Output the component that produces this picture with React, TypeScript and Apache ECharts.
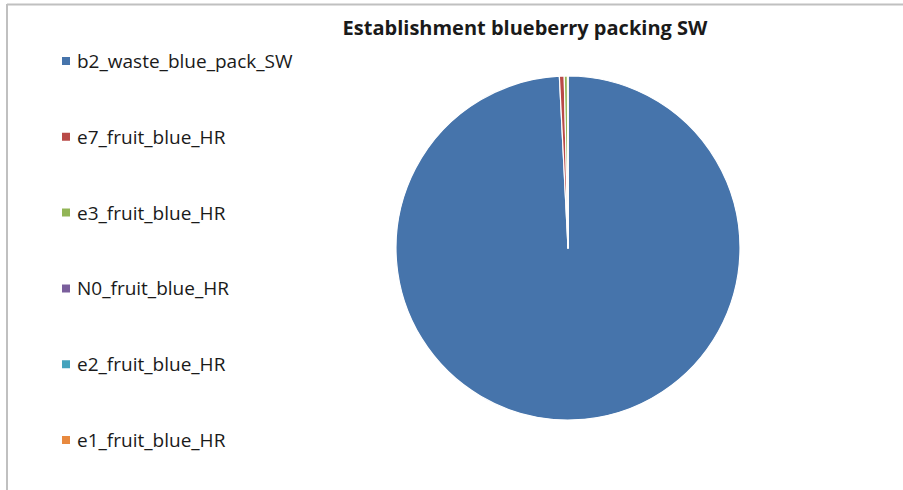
import React, { useEffect, useRef } from "react";
import * as echarts from "echarts";

const categories = [
  "b2_waste_blue_pack_SW",
  "e7_fruit_blue_HR",
  "e3_fruit_blue_HR",
  "N0_fruit_blue_HR",
  "e2_fruit_blue_HR",
  "e1_fruit_blue_HR",
];
const values = [99.2, 0.45, 0.3, 0.02, 0.02, 0.01];
const colors = ["#4674ab", "#b94a47", "#92b556", "#7a5e9c", "#44a3bd", "#e8893f"];
const title = "Establishment blueberry packing SW";

export default function App() {
  const ref = useRef<HTMLDivElement>(null);
  useEffect(() => {
    const chart = echarts.init(ref.current!, null, { renderer: "svg" });
    chart.setOption({
      animation: false,
      backgroundColor: "#ffffff",
      title: {
        text: title,
        left: 520,
        textAlign: "center",
        top: 12,
        textStyle: { fontFamily: "Open Sans", fontWeight: "bold", fontSize: 20, color: "#1a1a1a" },
      },
      legend: {
        orient: "vertical",
        left: 55,
        top: 46,
        itemWidth: 10,
        itemHeight: 10,
        itemGap: 55.8,
        icon: "rect",
        data: categories,
        textStyle: {
          fontFamily: "Open Sans",
          fontSize: 19,
          lineHeight: 20,
          color: "#1a1a1a",
          padding: [0, 0, 0, 1],
        },
      },
      graphic: [
        { type: "line", shape: { x1: 7, y1: 4.5, x2: 903, y2: 4.5 }, style: { stroke: "#c0c0c0", lineWidth: 2 } },
        { type: "line", shape: { x1: 7, y1: 4, x2: 7, y2: 490 }, style: { stroke: "#c0c0c0", lineWidth: 2 } },
      ],
      series: [
        {
          type: "pie",
          center: [568, 248],
          radius: 172,
          startAngle: 90,
          clockwise: true,
          label: { show: false },
          labelLine: { show: false },
          itemStyle: { borderColor: "#ffffff", borderWidth: 1.2 },
          data: categories.map((c, i) => ({ name: c, value: values[i], itemStyle: { color: colors[i] } })),
        },
      ],
    });
    return () => chart.dispose();
  }, []);
  return <div ref={ref} style={{ position: "fixed", left: 0, top: 0, width: 903, height: 490 }} />;
}
